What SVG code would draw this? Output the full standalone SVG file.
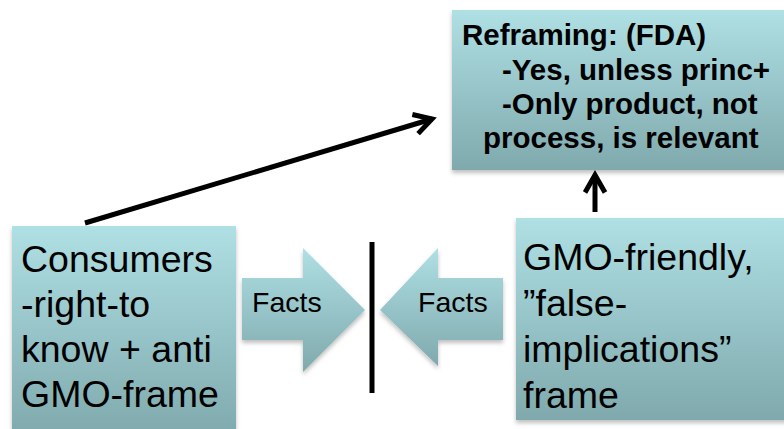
<svg xmlns="http://www.w3.org/2000/svg" width="784" height="429" viewBox="0 0 784 429">
<defs>
<linearGradient id="g" x1="0" y1="0" x2="0" y2="1">
<stop offset="0" stop-color="#afe0e4"/>
<stop offset="1" stop-color="#7fa9ad"/>
</linearGradient>
<filter id="sh" x="-10%" y="-10%" width="120%" height="130%">
<feDropShadow dx="0" dy="3" stdDeviation="2" flood-color="#000" flood-opacity="0.25"/>
</filter>
<marker id="ah" viewBox="0 0 10 10" refX="8" refY="5" markerWidth="5" markerHeight="5" orient="auto" markerUnits="strokeWidth">
<path d="M1,1 L8,5 L1,9" fill="none" stroke="#000" stroke-width="2"/>
</marker>
</defs>
<style>
.box{fill:url(#g);filter:url(#sh)}
.t{font-family:"Liberation Sans",Arial,sans-serif;fill:#000}
.big{font-size:37.5px}
.fa{font-size:28.5px}
.bd{font-size:29.5px;font-weight:bold}
.ln{stroke:#000;stroke-width:5;fill:none}
</style>
<rect width="784" height="429" fill="#fff"/>
<g id="reframing">
<rect class="box" x="452" y="10" width="340" height="160"/>
<text class="t bd" x="462" y="45">Reframing: (FDA)</text>
<text class="t bd" x="502" y="80">-Yes, unless princ+</text>
<text class="t bd" x="502" y="114">-Only product, not</text>
<text class="t bd" x="483" y="148">process, is relevant</text>
</g>
<g id="consumers">
<rect class="box" x="12" y="226" width="224" height="210"/>
<text class="t big" x="21" y="272">Consumers</text>
<text class="t big" x="21" y="317">-right-to</text>
<text class="t big" x="21" y="362">know + anti</text>
<text class="t big" x="21" y="407">GMO-frame</text>
</g>
<g id="gmo-friendly">
<rect class="box" x="516" y="218" width="276" height="202"/>
<text class="t big" x="523" y="270">GMO-friendly,</text>
<text class="t big" x="523" y="316">”false-</text>
<text class="t big" x="523" y="362">implications”</text>
<text class="t big" x="523" y="408">frame</text>
</g>
<g id="facts-left">
<path class="box" d="M242,278 H303 V248 L365,310 L303,372 V340 H242 Z"/>
<text class="t fa" x="252" y="312">Facts</text>
</g>
<g id="facts-right">
<path class="box" d="M503,278 H438 V248 L380,310 L438,366 V340 H503 Z"/>
<text class="t fa" x="418" y="312">Facts</text>
</g>
<g id="connectors">
<line class="ln" x1="372" y1="242" x2="372" y2="393"/>
<line class="ln" x1="85" y1="223" x2="432" y2="119" marker-end="url(#ah)"/>
<line class="ln" x1="595" y1="212" x2="595" y2="175" marker-end="url(#ah)"/>
</g>
</svg>
